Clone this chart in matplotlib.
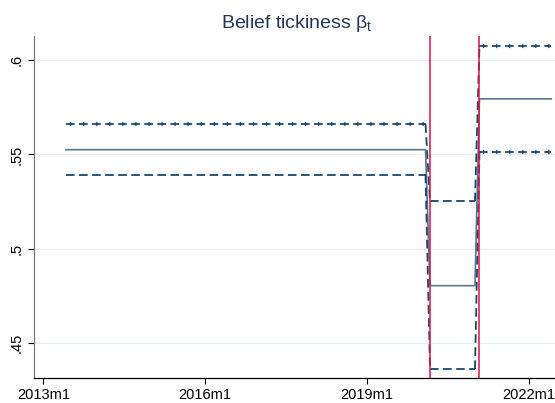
import matplotlib
matplotlib.use('Agg')
import matplotlib.pyplot as plt

plt.rcParams['font.family'] = ['Liberation Sans', 'DejaVu Sans']
plt.rcParams['mathtext.fontset'] = 'custom'
plt.rcParams['mathtext.rm'] = 'Liberation Sans'
plt.rcParams['lines.scale_dashes'] = False


def ym(s):
    # Stata monthly date: months since 1960m1
    y, m = s.split('m')
    return (int(y) - 1960) * 12 + int(m) - 1


# regimes of belief stickiness, first and last month of each
regime_start = ['2013m6', '2020m3', '2021m2']
regime_end = ['2020m2', '2021m1', '2022m6']
beta = [0.5525, 0.4805, 0.5794]
beta_hi = [0.5660, 0.5252, 0.6076]
beta_lo = [0.5393, 0.4364, 0.5513]
breaks = ['2020m3', '2021m2']
xticklabels = ['2013m1', '2016m1', '2019m1', '2022m1']
yticks = [0.45, 0.5, 0.55, 0.6]
yticklabels = ['.45', '.5', '.55', '.6']

navy = '#1a476f'
mean_col = '#587594'
red = '#dc1446'

fig = plt.figure(figsize=(5.55, 4.03), dpi=100)
ax = fig.add_axes([33.5 / 555, 25 / 403, 1 - 33.5 / 555, (378 - 36) / 403])

starts = [ym(s) for s in regime_start]
ends = [ym(s) for s in regime_end]

# point estimate as one connected line
xs, ys = [], []
for a, b, v in zip(starts, ends, beta):
    xs += [a, b]
    ys += [v, v]
ax.plot(xs, ys, color=mean_col, lw=1.2, zorder=3)

# confidence bands: horizontal pieces plus the jumps between regimes
ci_dash = (0, (6.2, 3.2))
for band in (beta_hi, beta_lo):
    for a, b, v in zip(starts, ends, band):
        ax.plot([a, b], [v, v], color=navy, lw=1.3, ls=ci_dash, zorder=3)
    for i in range(len(band) - 1):
        ax.plot([ends[i], starts[i + 1]], [band[i], band[i + 1]],
                color=navy, lw=1.3, ls=ci_dash, zorder=3)

# small crossbars on some band pieces
bar_dash = (6.5, (0.9, 8.5))
for band, i in ((beta_hi, 0), (beta_lo, 2), (beta_hi, 2)):
    ax.plot([starts[i], ends[i]], [band[i], band[i]], color=navy, lw=3.0,
            ls=bar_dash, zorder=3)

for b in breaks:
    ax.axvline(ym(b), color=red, lw=1.1, zorder=4)

ax.set_xlim(633.8, 749.8)
ax.set_ylim(0.4316, 0.6127)
ax.set_xticks([ym(s) for s in xticklabels])
ax.set_xticklabels(xticklabels)
ax.set_yticks(yticks)
ax.set_yticklabels(yticklabels, rotation=90, va='center')
ax.tick_params(axis='both', labelsize=10.5, length=4.3, width=0.8, pad=3)
ax.grid(axis='y', color='#e6eff1', lw=0.8)
ax.set_axisbelow(True)
for s in ('top', 'right'):
    ax.spines[s].set_visible(False)
ax.spines['left'].set_color('#7a7a7a')
ax.spines['bottom'].set_color('black')
ax.spines['left'].set_linewidth(0.9)
ax.spines['bottom'].set_linewidth(0.9)

fig.text(0.535, 1 - 28 / 403, r'Belief tickiness $\mathregular{\beta_t}$',
         ha='center', va='baseline', fontsize=14, color='#24345c')

fig.savefig('out.png', dpi=100)
